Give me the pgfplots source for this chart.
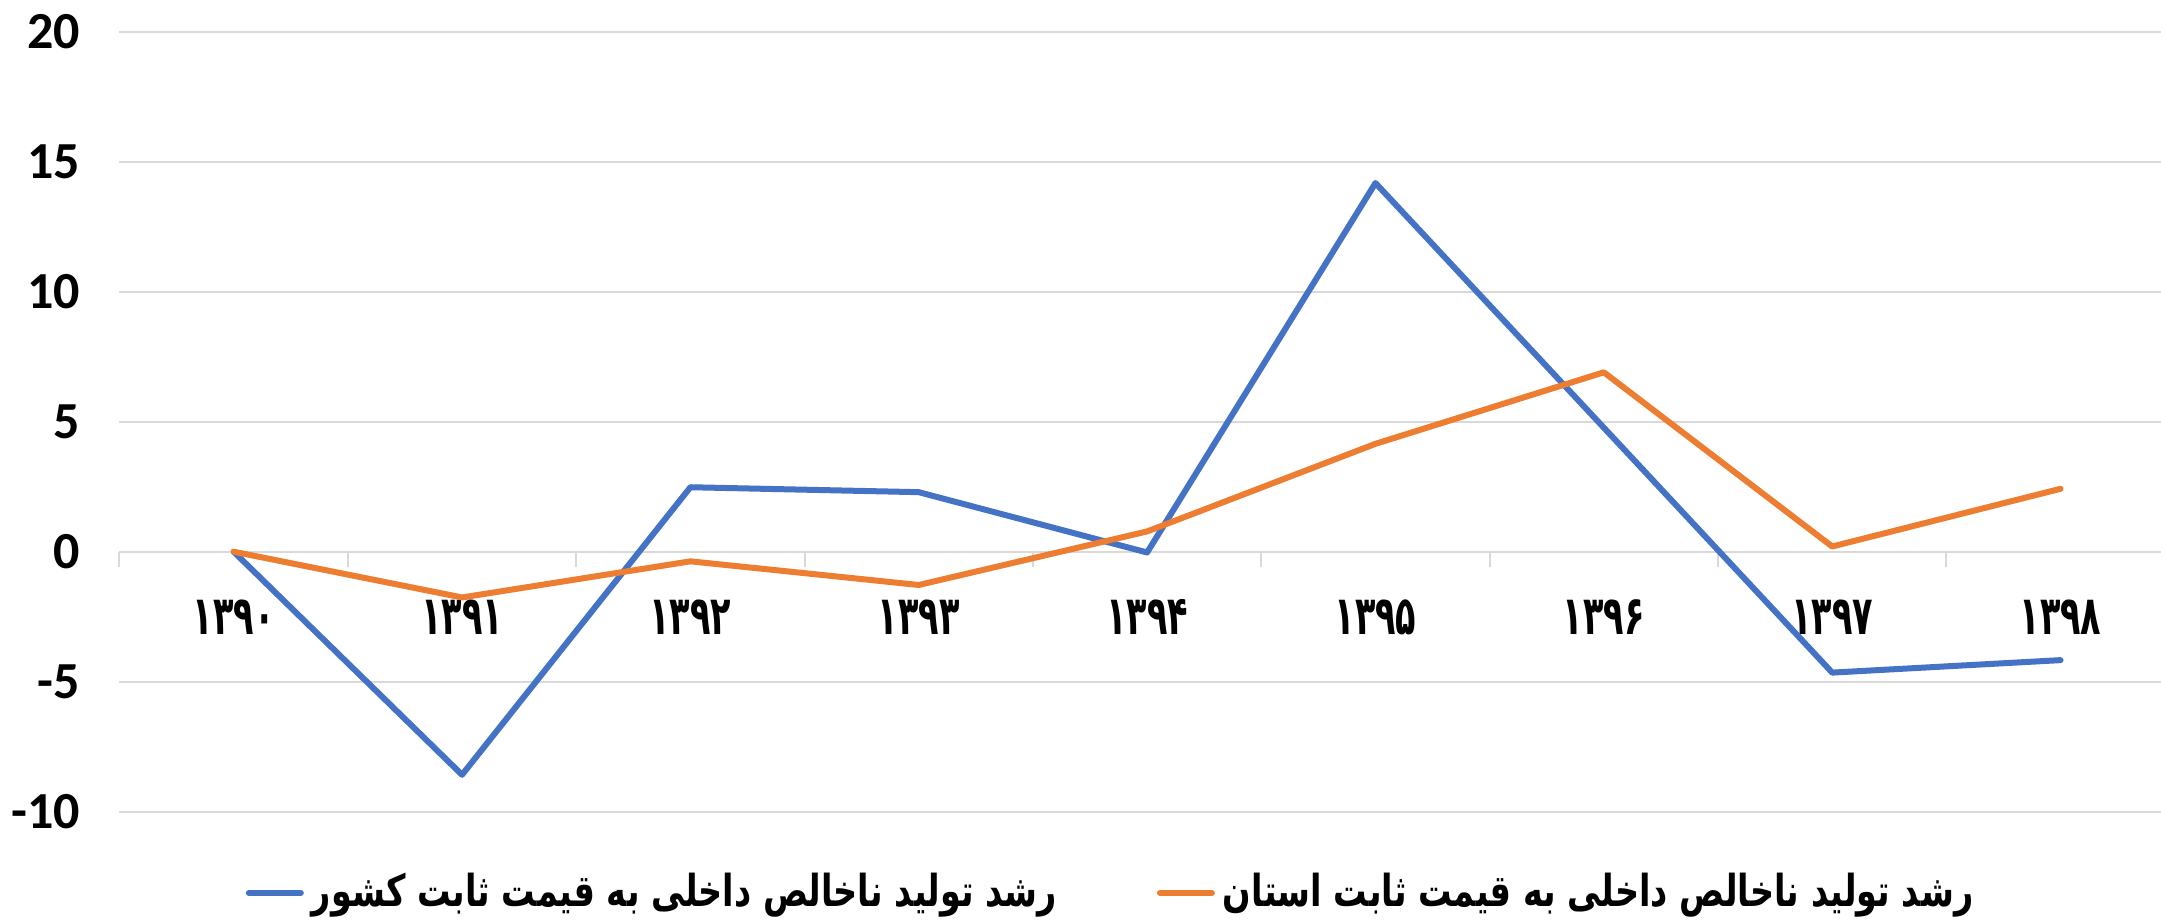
\documentclass[border=0pt]{standalone}
\usepackage{fontspec}
\setmainfont{Carlito}
\newfontfamily\arabicfont[Script=Arabic]{DejaVu Sans}
\usepackage{graphicx}
\usepackage{pgfplots}
\pgfplotsset{compat=1.18}
\TeXXeTstate=1
\definecolor{sblue}{HTML}{4472C4}
\definecolor{sorange}{HTML}{ED7D31}
\definecolor{gridgray}{HTML}{D9D9D9}
\newcommand{\pd}[1]{\scalebox{0.62}[1]{\arabicfont\bfseries\fontsize{13.5}{15}\selectfont #1}}
\newcommand{\legtxt}[1]{\scalebox{0.76}[1]{\arabicfont\bfseries\fontsize{11}{13}\selectfont\beginR #1\endR}}
\begin{document}
\begin{tikzpicture}
\useasboundingbox (-29.875pt,-27.825pt) rectangle (510.375pt,202.925pt);
\begin{axis}[
 at={(0pt,0pt)}, anchor=south west,
 scale only axis, width=510.375pt, height=195pt,
 xmin=-0.5, xmax=8.44, ymin=-10, ymax=20,
 axis x line*=middle, axis y line*=left,
 x axis line style={gridgray, line width=0.5pt},
 y axis line style={draw=none},
 ytick={-10,-5,...,20},
 ymajorgrids, grid style={gridgray, line width=0.5pt},
 ytick style={draw=none},
 xtick={0,...,8},
 xticklabels={\pd{۱۳۹۰},\pd{۱۳۹۱},\pd{۱۳۹۲},\pd{۱۳۹۳},\pd{۱۳۹۴},\pd{۱۳۹۵},\pd{۱۳۹۶},\pd{۱۳۹۷},\pd{۱۳۹۸}},
 minor xtick={-0.5,0.5,...,7.5},
 minor x tick style={gridgray, line width=0.5pt},
 tick align=outside,
 minor tick length=3.75pt, major tick length=0pt,
 xticklabel style={anchor=base, yshift=-20.75pt, inner sep=0pt},
 yticklabel style={font=\fontsize{13}{15}\selectfont\bfseries, inner sep=0pt, xshift=-9.7pt},
 /pgf/number format/assume math mode=true,
 legend columns=2,
 legend style={at={(axis description cs:0.0615,-0.104)}, anchor=west, draw=none, fill=none, inner sep=0pt,
   /tikz/every even column/.append style={column sep=23pt}},
 legend image code/.code={\draw[#1, line cap=round] (0pt,0pt) -- (13pt,0pt);},
 every axis plot/.append style={line width=1.5pt, line join=round, line cap=round, no markers},
]
\addplot[sblue] coordinates {(0,0) (1,-8.58) (2,2.48) (3,2.29) (4,-0.03) (5,14.18) (6,4.77) (7,-4.65) (8,-4.17)};
\addlegendentry{\legtxt{رشد تولید ناخالص داخلی به قیمت ثابت کشور}}
\addplot[sorange] coordinates {(0,0) (1,-1.76) (2,-0.37) (3,-1.28) (4,0.78) (5,4.15) (6,6.9) (7,0.2) (8,2.42)};
\addlegendentry{\legtxt{رشد تولید ناخالص داخلی به قیمت ثابت استان}}
\end{axis}
\end{tikzpicture}
\end{document}
